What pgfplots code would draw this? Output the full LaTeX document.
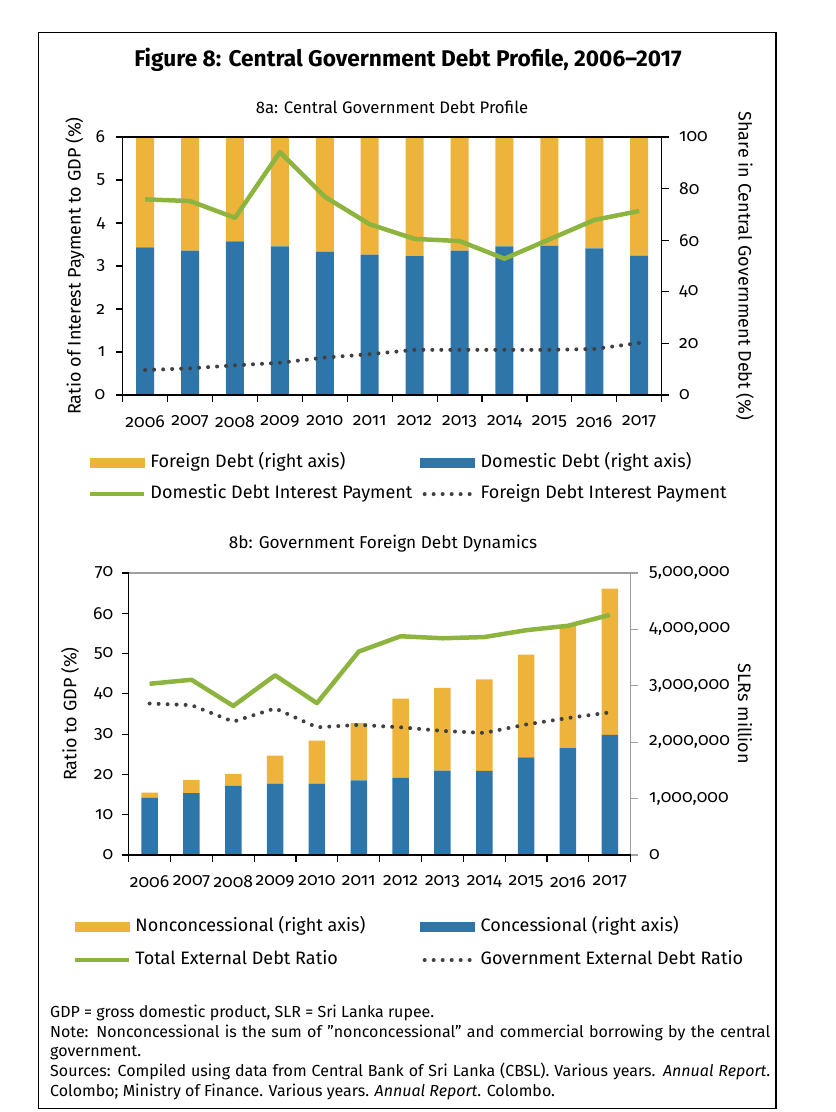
\documentclass[border=0pt]{standalone}
\usepackage{fontspec}
\setmainfont{Fira Sans}[Numbers=OldStyle]
\usepackage{pgfplots}
\pgfplotsset{compat=1.18}

\definecolor{cyel}{HTML}{EDB33B}
\definecolor{cblue}{HTML}{2E75AA}
\definecolor{cgreen}{HTML}{8DB43E}
\definecolor{cdot}{HTML}{404040}

\newcommand\lbl{\fontsize{18}{21}\selectfont}
\newcommand\tkl{\fontsize{17.5}{20}\selectfont}

\pgfplotsset{
  base/.style={scale only axis, anchor=south west,
    xmin=-0.5, xmax=11.5, ymin=0,
    tick align=outside, major tick length=7pt, minor tick length=7pt,
    tick label style={font=\tkl},
    xticklabel style={yshift=-10pt},
    /pgf/number format/assume math mode=true,
    label style={font=\lbl},
    axis line style={line width=1.4pt},
    tick style={line width=1.2pt, black}},
  years/.style={xtick={0,...,11},
    xticklabels={2006,2007,2008,2009,2010,2011,2012,2013,2014,2015,2016,2017},
    minor xtick={-0.5,0.5,...,11.5},
    major x tick style={draw=none}},
  leg/.style={legend cell align=left,
    legend style={draw=none, fill=none, inner sep=0pt, outer sep=0pt,
      font=\lbl, anchor=west,
      nodes={inner sep=0pt, text height=12pt, text depth=4pt},
      /tikz/every odd column/.append style={column sep=4pt}}},
  greenline/.style={cgreen, line width=4.5pt, line join=round,
    legend image code/.code={\draw[##1] (0pt,0pt) -- (54pt,0pt);}},
  dotline/.style={cdot, line width=4pt, line cap=round,
    dash pattern=on 0pt off 9pt,
    legend image code/.code={\draw[##1] (4pt,0pt) -- (54pt,0pt);}},
}

\begin{document}
\begin{tikzpicture}
\path[use as bounding box] (0,0) rectangle (836pt,1112pt);
\draw[line width=1.3pt] (38.3pt,3.5pt) rectangle (776pt,1079.7pt);

\node[anchor=base, font=\fontsize{22.7}{26}\selectfont\bfseries\addfontfeatures{Numbers=Lining}]
  at (408pt,1045pt) {Figure 8: Central Government Debt Profile, 2006--2017};
\node[anchor=base, font=\fontsize{16.7}{20}\selectfont] at (392pt,998pt)
  {8a: Central Government Debt Profile};
\node[anchor=base, font=\fontsize{17.2}{20}\selectfont] at (383pt,563pt)
  {8b: Government Foreign Debt Dynamics};

% ---------- 8a, right axis: debt shares
\begin{axis}[base, at={(122.7pt,717pt)}, width=539pt, height=258pt,
  ymax=100, ytick={0,20,...,100},
  axis x line=none, axis y line*=right,
  yticklabel style={xshift=7pt},
  ybar stacked, bar width=18pt,
  ylabel={Share in Central Government Debt (\%)},
  ylabel style={at={(axis description cs:1.1546,0.5)}, anchor=center, rotate=180}]
\addplot[fill=cblue, draw=none] coordinates {
  (0,57.2) (1,56.0) (2,59.5) (3,57.6) (4,55.6) (5,54.4)
  (6,53.8) (7,56.0) (8,57.6) (9,57.9) (10,56.8) (11,54.0)};
\addplot[fill=cyel, draw=none] coordinates {
  (0,42.8) (1,44.0) (2,40.5) (3,42.4) (4,44.4) (5,45.6)
  (6,46.2) (7,44.0) (8,42.4) (9,42.1) (10,43.2) (11,46.0)};
\end{axis}

% ---------- 8a, left axis: interest payments
\begin{axis}[base, years, leg, at={(122.7pt,717pt)}, width=539pt, height=258pt,
  ymax=6, ytick={0,...,6},
  ytick pos=left, xtick pos=bottom,
  yticklabel style={xshift=-7pt},
  ylabel={Ratio of Interest Payment to GDP (\%)},
  ylabel style={at={(axis description cs:-0.0885,0.5)}, anchor=center},
  legend columns=2,
  legend style={at={(axis description cs:-0.0644,-0.324)}, row sep=15pt,
    /tikz/every even column/.append style={column sep=8pt}}]
\addlegendimage{legend image code/.code={\fill[cyel] (0pt,-4.5pt) rectangle (54pt,4.5pt);}}
\addlegendentry{Foreign Debt (right axis)}
\addlegendimage{legend image code/.code={\fill[cblue] (0pt,-4.5pt) rectangle (54pt,4.5pt);}}
\addlegendentry{Domestic Debt (right axis)}
\addplot[greenline] coordinates {
  (0,4.55) (1,4.51) (2,4.12) (3,5.65) (4,4.61) (5,3.97)
  (6,3.63) (7,3.58) (8,3.17) (9,3.62) (10,4.07) (11,4.28)};
\addlegendentry{Domestic Debt Interest Payment}
\addplot[dotline] coordinates {
  (0,0.58) (1,0.62) (2,0.69) (3,0.75) (4,0.87) (5,0.95)
  (6,1.05) (7,1.05) (8,1.05) (9,1.05) (10,1.07) (11,1.21)};
\addlegendentry{Foreign Debt Interest Payment}
\end{axis}

% ---------- 8b, right axis: foreign debt stock
\begin{axis}[base, at={(128.7pt,257pt)}, width=502pt, height=282pt,
  ymax=5000000, ytick={0,1000000,2000000,3000000,4000000,5000000},
  axis x line*=top, xtick=\empty, axis y line*=right,
  axis line style={line width=1.4pt, gray!75}, y tick style={gray!75},
  scaled y ticks=false,
  yticklabel style={xshift=8pt, /pgf/number format/.cd, fixed, 1000 sep={,}},
  ybar stacked, bar width=16.5pt,
  ylabel={SLRs million},
  ylabel style={at={(axis description cs:1.2277,0.5)}, anchor=center, rotate=180}]
\addplot[fill=cblue, draw=none] coordinates {
  (0,1019000) (1,1095000) (2,1225000) (3,1266000) (4,1266000) (5,1325000)
  (6,1366000) (7,1496000) (8,1490000) (9,1731000) (10,1896000) (11,2132000)};
\addplot[fill=cyel, draw=none] coordinates {
  (0,88000) (1,236000) (2,212000) (3,495000) (4,760000) (5,1013000)
  (6,1408000) (7,1466000) (8,1625000) (9,1820000) (10,2180000) (11,2591000)};
\end{axis}

% ---------- 8b, left axis: debt ratios
\begin{axis}[base, years, leg, at={(128.7pt,257pt)}, width=502pt, height=282pt,
  ymax=70, ytick={0,10,...,70},
  axis x line*=bottom, axis y line*=left,
  yticklabel style={xshift=-5pt},
  ylabel={Ratio to GDP (\%)},
  ylabel style={at={(axis description cs:-0.117,0.5)}, anchor=center},
  legend columns=2,
  legend style={at={(axis description cs:-0.111,-0.314)}, row sep=17pt,
    /tikz/every even column/.append style={column sep=55pt}}]
\addlegendimage{legend image code/.code={\fill[cyel] (0pt,-4.5pt) rectangle (54pt,4.5pt);}}
\addlegendentry{Nonconcessional (right axis)}
\addlegendimage{legend image code/.code={\fill[cblue] (0pt,-4.5pt) rectangle (54pt,4.5pt);}}
\addlegendentry{Concessional (right axis)}
\addplot[greenline] coordinates {
  (0,42.5) (1,43.5) (2,37.0) (3,44.6) (4,37.7) (5,50.5)
  (6,54.3) (7,53.8) (8,54.1) (9,55.8) (10,56.9) (11,59.6)};
\addlegendentry{Total External Debt Ratio}
\addplot[dotline] coordinates {
  (0,37.6) (1,37.2) (2,33.1) (3,36.4) (4,31.7) (5,32.3)
  (6,31.7) (7,30.8) (8,30.3) (9,32.4) (10,34.0) (11,35.4)};
\addlegendentry{Government External Debt Ratio}
\end{axis}

% ---------- notes
\node[anchor=north west, inner sep=0pt, text width=720pt, align=justify,
  font=\fontsize{16}{19.6}\selectfont] at (50pt,107pt) {%
  \hyphenpenalty=10000
  GDP = gross domestic product, SLR = Sri Lanka rupee.\par
  Note: Nonconcessional is the sum of {\char34}nonconcessional{\char34} and commercial borrowing by the central\linebreak
  government.\par
  Sources: Compiled using data from Central Bank of Sri Lanka (CBSL). Various years. \textit{Annual Report}.\linebreak
  Colombo; Ministry of Finance. Various years. \textit{Annual Report}. Colombo.};
\end{tikzpicture}
\end{document}
